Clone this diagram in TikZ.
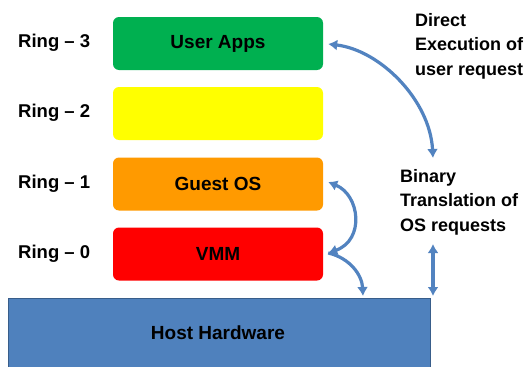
\documentclass[tikz,border=0pt]{standalone}
\usepackage{fontspec}
\setmainfont{Liberation Sans}
\usetikzlibrary{arrows.meta}
\definecolor{cgreen}{HTML}{00B050}
\definecolor{cyellow}{HTML}{FFFF00}
\definecolor{corange}{HTML}{FF9A00}
\definecolor{cred}{HTML}{FF0000}
\definecolor{chost}{HTML}{4F81BD}
\definecolor{chostline}{HTML}{385D8A}
\definecolor{carrow}{HTML}{5283C0}
\tikzset{
  ringbox/.style={rounded corners=6pt, minimum width=210pt, minimum height=53pt, inner sep=0pt,
    font=\fontsize{19}{22}\selectfont\bfseries},
  ringlabel/.style={anchor=west, inner sep=0pt, font=\fontsize{18.5}{22}\selectfont\bfseries},
  note/.style={anchor=north west, inner sep=0pt, align=left, font=\fontsize{18}{24.5}\selectfont\bfseries},
  conn/.style={draw=carrow, line width=3.2pt, arrows={-Latex[length=9pt,width=11pt]}},
  conn2/.style={draw=carrow, line width=3.2pt, arrows={Latex[length=9pt,width=11pt]-Latex[length=9pt,width=11pt]}}
}
\begin{document}
\begin{tikzpicture}[x=1pt,y=-1pt]
\useasboundingbox (0,0) rectangle (531,367);
\clip (0,0) rectangle (531,367);
\fill[white] (0,0) rectangle (531,367);
% host
\node[draw=chostline, fill=chost, line width=1.2pt, minimum width=422pt, minimum height=80pt, anchor=north west, inner sep=0pt] (host) at (8,298) {};
\node[font=\fontsize{19}{22}\selectfont\bfseries] (hosttext) at (218,333) {Host Hardware};
% ring boxes
\node[ringbox, fill=cgreen] (user) at (218,43.5) {User Apps};
\node[ringbox, fill=cyellow] (ring2) at (218,113.5) {};
\node[ringbox, fill=corange] (guest) at (218,184) {Guest OS};
\node[ringbox, fill=cred] (vmm) at (218,254) {VMM};
% ring labels
\node[ringlabel] (r3) at (18,43) {Ring -- 3};
\node[ringlabel] (r2) at (18,113) {Ring -- 2};
\node[ringlabel] (r1) at (18,184) {Ring -- 1};
\node[ringlabel] (r0) at (18,254) {Ring -- 0};
% notes
\node[note] (direct) at (415,13) {Direct\\Execution of\\user request};
\node[note] (binary) at (400,169) {Binary\\Translation of\\OS requests};
% connector endpoints
\coordinate (a1) at (433,158);
\coordinate (a3) at (363,296);
\coordinate (b1) at (433,244);
\coordinate (b2) at (433,296);
% connectors
\draw[conn2] ([xshift=5pt,yshift=-0.5pt]user.east) .. controls (380,50) and (430,100) .. (a1);
\draw[conn2] ([xshift=5pt,yshift=2pt]guest.east) .. controls (360,195) and (365,240) .. ([xshift=5pt,yshift=1pt]vmm.east);
\draw[conn] ([xshift=5pt,yshift=1pt]vmm.east) .. controls (350,258) and (362,275) .. (a3);
\draw[conn2] (b1) -- (b2);
\end{tikzpicture}
\end{document}
